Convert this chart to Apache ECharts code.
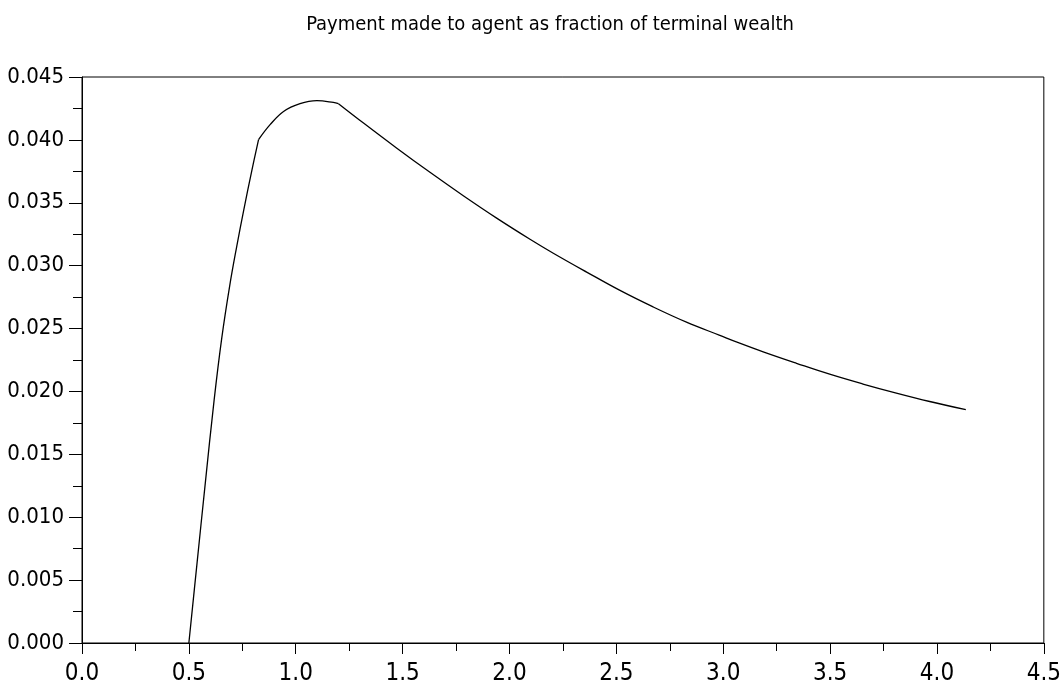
<!DOCTYPE html>
<html>
<head>
<meta charset="utf-8">
<script src="https://cdn.jsdelivr.net/npm/echarts@6/dist/echarts.min.js"></script>
<style>
  html, body { margin: 0; padding: 0; background: #fff; }
  #chart { width: 1064px; height: 696px; }
</style>
</head>
<body>
<div id="chart"></div>
<script>
// terminal wealth (x) and payment fraction (y)
const wealth = [
  0.500, 0.538, 0.575, 0.618, 0.654, 0.691, 0.724, 0.756, 0.795, 0.826,
  0.880, 0.943, 1.020, 1.099, 1.176, 1.200,
  1.317, 1.473, 1.628, 1.784, 1.940, 2.096, 2.205, 2.361, 2.517, 2.672,
  2.828, 2.984, 3.077, 3.187, 3.343, 3.498, 3.654, 3.810, 3.966, 4.135
]
const payment = [
  0.00000, 0.00631, 0.01241, 0.01929, 0.02426, 0.02840, 0.03154, 0.03436, 0.03760, 0.04002,
  0.04121, 0.04226, 0.04288, 0.04312, 0.04298, 0.04288,
  0.04134, 0.03934, 0.03742, 0.03556, 0.03378, 0.03210, 0.03099, 0.02949, 0.02803, 0.02672,
  0.02551, 0.02446, 0.02384, 0.02315, 0.02224, 0.02137, 0.02059, 0.01987, 0.01920, 0.01855
]
// the curve has two kinks, at these points
const kinks = [0.826, 1.200]
const titleText = 'Payment made to agent as fraction of terminal wealth'

const font = "'Liberation Sans Narrow', 'DejaVu Sans Condensed', 'Liberation Sans', sans-serif"
const points = wealth.map((x, i) => [x, payment[i]])

// split into pieces at the kinks so smoothing keeps them sharp
const pieces = []
let start = 0
kinks.concat([Infinity]).forEach((k) => {
  const end = k === Infinity ? points.length - 1 : wealth.indexOf(k)
  pieces.push(points.slice(start, end + 1))
  start = end
})

const chart = echarts.init(document.getElementById('chart'), null, { renderer: 'canvas' })

chart.setOption({
  animation: false,
  backgroundColor: '#fff',
  title: {
    text: titleText,
    left: 545,
    top: 10,
    textAlign: 'center',
    textStyle: { fontFamily: font, fontSize: 20, fontWeight: 'normal', color: '#000' }
  },
  grid: {
    left: 82,
    right: 20,
    top: 77,
    bottom: 53,
    show: true,
    borderColor: '#000',
    borderWidth: 1,
    backgroundColor: 'transparent'
  },
  xAxis: {
    type: 'value',
    min: 0,
    max: 4.5,
    interval: 0.5,
    axisLine: { show: true, onZero: false, lineStyle: { color: '#000', width: 1 } },
    axisTick: { show: true, inside: false, length: 11, lineStyle: { color: '#000', width: 1 } },
    minorTick: { show: true, splitNumber: 2, length: 8, lineStyle: { color: '#000', width: 1 } },
    splitLine: { show: false },
    axisLabel: {
      margin: 19,
      fontFamily: font,
      fontSize: 24,
      color: '#000',
      formatter: (v) => v.toFixed(1)
    }
  },
  yAxis: {
    type: 'value',
    min: 0,
    max: 0.045,
    interval: 0.005,
    axisLine: { show: true, onZero: false, lineStyle: { color: '#000', width: 1 } },
    axisTick: { show: true, inside: false, length: 13, lineStyle: { color: '#000', width: 1 } },
    minorTick: { show: true, splitNumber: 2, length: 9, lineStyle: { color: '#000', width: 1 } },
    splitLine: { show: false },
    axisLabel: {
      margin: 18,
      fontFamily: font,
      fontSize: 22,
      color: '#000',
      formatter: (v) => v.toFixed(3)
    }
  },
  series: pieces.map((data) => ({
    type: 'line',
    data: data,
    showSymbol: false,
    smooth: 0.4,
    lineStyle: { color: '#000', width: 1.3 },
    itemStyle: { color: '#000' }
  }))
})
</script>
</body>
</html>
